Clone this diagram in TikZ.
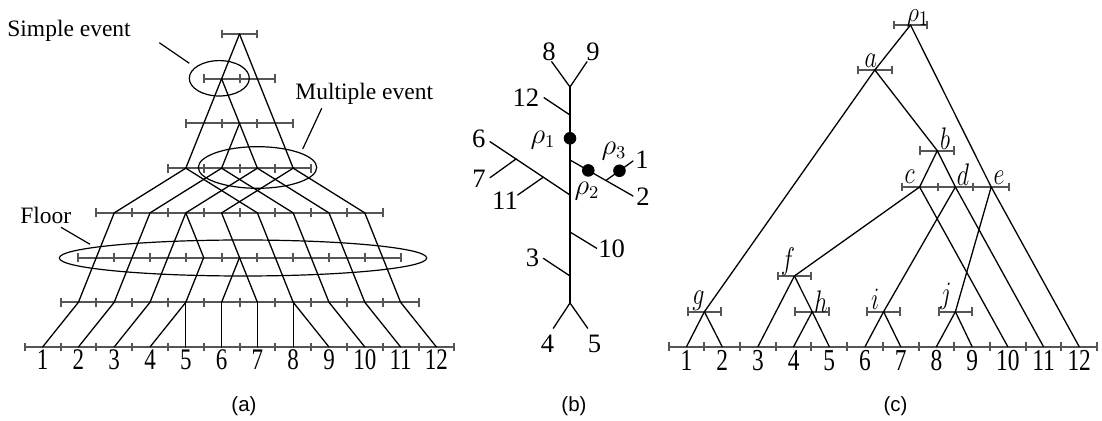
\documentclass[tikz,border=0pt]{standalone}
\usepackage{fontspec}
\setmainfont{Liberation Serif}
\setsansfont{Liberation Sans}
\usepackage{graphicx}
\usetikzlibrary{calc,arrows.meta,positioning,shapes.geometric}
\definecolor{eragray}{RGB}{85,85,85}
\newcommand{\tallnum}[1]{\scalebox{1}[1.3]{#1}}
\newcommand{\tallmath}[1]{\scalebox{1}[1.3]{$#1$}}
\tikzset{
  branch/.style ={line width=0.65pt, black, line cap=round, line join=round},
  era/.style    ={line width=1pt, eragray},
  erabar/.style ={era, {Bar[width=4.4pt]}-{Bar[width=4.4pt]}},
  evring/.style ={ellipse, draw, line width=0.6pt, inner sep=0pt},
  evtext/.style ={font=\fontsize{11.75}{14}\selectfont, inner sep=0pt},
  pointer/.style={line width=0.6pt},
  numA/.style   ={font=\fontsize{11.5}{13}\selectfont, inner sep=0pt},
  numB/.style   ={font=\fontsize{13.3}{15}\selectfont, inner sep=0pt},
  numC/.style   ={font=\fontsize{11.7}{13}\selectfont, inner sep=0pt},
  lblC/.style   ={font=\fontsize{12.5}{14}\selectfont, inner sep=0pt},
  rootdot/.style={circle, fill=black, minimum size=6.3pt, inner sep=0pt},
  caption/.style={font=\sffamily\fontsize{10.25}{12}\selectfont, inner sep=0pt},
}

\begin{document}
\begin{tikzpicture}[x=0.5pt, y=-0.5pt]
  \useasboundingbox[fill=white] (0,0) rectangle (1102,421);

  % --- panel (a): the gene tree on its time grid -------------------------
  \begin{scope}[shift={(239.5,347)}, x=8.95pt, y=22.35pt]
    % time slices with their ticks
    \foreach \k/\lo/\hi in {7/-1/1, 6/-2/2, 5/-3/3, 4/-4/4, 3/-8/8, 2/-9/9, 1/-10/10, 0/-12/12} {
      \draw[era] (\lo,\k) -- (\hi,\k);
      \pgfmathtruncatemacro{\second}{\lo+2}
      \foreach \t in {\lo,\second,...,\hi}
        \draw[era] (\t,\k) ++(0,-2.2pt) -- ++(0,4.4pt);
    }
    % lineages at each slice
    \foreach \k/\ps in {7/{0}, 6/{-1}, 5/{0}, 4/{-3,-1,1,3}, 3/{-7,-5,...,7},
                        2/{-2,0}, 1/{-9,-7,...,9}, 0/{-11,-9,...,11}}
      \foreach \p in \ps
        \coordinate (A\k x\p) at (\p,\k);
    % branches
    \foreach \ka/\pa/\kb/\pb in {7/0/6/-1, 7/0/4/3, 6/-1/4/-3, 6/-1/5/0, 5/0/4/-1, 5/0/4/1,
        4/-3/3/-7, 4/-3/3/1, 4/-1/3/-5, 4/-1/3/3, 4/1/3/-3, 4/1/3/5, 4/3/3/-1, 4/3/3/7,
        3/-7/1/-9, 3/-5/1/-7, 3/-3/1/-5, 3/-3/2/-2, 2/-2/1/-3, 3/-1/2/0, 2/0/1/-1, 2/0/1/1,
        3/1/1/3, 3/3/1/5, 3/5/1/7, 3/7/1/9,
        1/-9/0/-11, 1/-7/0/-9, 1/-5/0/-7, 1/-3/0/-5, 1/-3/0/-3, 1/-1/0/-1, 1/1/0/1,
        1/3/0/3, 1/3/0/5, 1/5/0/7, 1/7/0/9, 1/9/0/11}
      \draw[branch] (A\ka x\pa) -- (A\kb x\pb);
    % leaf numbers
    \foreach \p [count=\n] in {-11,-9,...,11}
      \node[numA, below=1.2pt of A0x\p] (Anum\n) {\tallnum{\n}};
  \end{scope}

  % events
  \node[evring, minimum width=30pt,    minimum height=17.7pt] (simpleev) at (219.3,78.3) {};
  \node[evring, minimum width=59.2pt,  minimum height=20.8pt] (multiev)  at (257.5,167.5) {};
  \node[evring, minimum width=183.7pt, minimum height=18pt]   (floorev)  at (243,258) {};
  \node[evtext, anchor=base west] (simplelbl) at (7,36.7)  {Simple event};
  \node[evtext, anchor=base west] (multilbl)  at (295,100) {Multiple event};
  \node[evtext, anchor=base west] (floorlbl)  at (20,223.3) {Floor};
  \coordinate (simplefoot) at (159.3,42.7);  \coordinate (simpletip) at (189.3,63.3);
  \coordinate (multifoot)  at (321.7,108.3); \coordinate (multitip)  at (302.7,149);
  \coordinate (floorfoot)  at (61,227.3);    \coordinate (floortip)  at (90,244.3);
  \draw[pointer] (simplefoot) -- (simpletip);
  \draw[pointer] (multifoot) -- (multitip);
  \draw[pointer] (floorfoot) -- (floortip);

  % --- panel (b): the unrooted tree --------------------------------------
  \coordinate (Btop) at (570,87);
  \coordinate (Bbot) at (570,303);
  \coordinate (B8) at (551.7,61.7);
  \coordinate (B9) at (587,61.7);
  \coordinate (Bj12) at (570,115);   \coordinate (B12) at (544,97.7);
  \coordinate (Bj2) at (570,160);    \coordinate (B2) at (633,196);
  \coordinate (Bj1) at ($(Bj2)!0.57!(B2)$);  \coordinate (B1) at (633,161);
  \coordinate (Bj6) at (570,195);    \coordinate (B6) at (490,141.7);
  \coordinate (Bj7) at ($(Bj6)!0.675!(B6)$); \coordinate (B7) at (490,177.7);
  \coordinate (Bj11) at ($(Bj6)!0.334!(B6)$); \coordinate (B11) at (517.7,195);
  \coordinate (Bj10) at (570,232);   \coordinate (B10) at (596.7,248.3);
  \coordinate (Bj3) at (570,276);    \coordinate (B3) at (543.3,258.3);
  \coordinate (B4) at (553.3,328.3);
  \coordinate (B5) at (587.7,328.3);
  \draw[branch] (Btop) -- (Bbot);
  \draw[branch] (B8) -- (Btop) -- (B9);
  \draw[branch] (B4) -- (Bbot) -- (B5);
  \foreach \j/\e in {Bj12/B12, Bj2/B2, Bj1/B1, Bj6/B6, Bj7/B7, Bj11/B11, Bj10/B10, Bj3/B3}
    \draw[branch] (\j) -- (\e);
  \node[rootdot] (rhoA) at (570,138.3) {};
  \node[rootdot] (rhoB) at ($(Bj2)!0.29!(B2)$) {};
  \node[rootdot] (rhoC) at ($(Bj1)!0.5!(B1)$) {};
  % leaf and root labels
  \foreach \t/\x/\y in {8/549/51.7, 9/593/51.7, 12/525.8/97.2, 6/478.8/139, 7/479/178.3,
                        11/505/201, 1/642/160, 2/643/196.7, 10/611.7/249, 3/532.5/258.3,
                        4/547.5/344, 5/594.5/344}
    \node[numB] (Blbl\t) at (\x,\y) {\t};
  \node[numB] (rhoAlbl) at (543,140) {$\rho_1$};
  \node[numB] (rhoBlbl) at (587,191) {$\rho_2$};
  \node[numB] (rhoClbl) at (614,151) {$\rho_3$};

  % --- panel (c): the rooted, ranked tree -------------------------------
  \foreach \n in {1,...,12}
    \coordinate (C\n) at ({686.5+35.7*(\n-1)},346.7);
  \coordinate (Crho) at (910.5,25);
  \coordinate (Ca) at (874.8,70);
  \coordinate (Cb) at (937.3,150.7);
  \coordinate (Cc) at (919.6,187);
  \coordinate (Cd) at (955.4,187);
  \coordinate (Ce) at (991.2,187);
  \coordinate (Cf) at (794.4,276);
  \coordinate (Cg) at (704.4,311.7);
  \coordinate (Ch) at (812.2,311.7);
  \coordinate (Ci) at (883.6,311.7);
  \coordinate (Cj) at (955.4,311.7);
  % time bars
  \foreach \nd in {Crho,Ca,Cb,Cf,Cg,Ch,Ci,Cj}
    \draw[erabar] (\nd) ++(-17.85,0) -- ++(35.7,0);
  \draw[era] (901.7,187) -- (1009.3,187);
  \foreach \x in {901.7,937.6,973.4,1009.3}
    \draw[era] (\x,187) ++(0,-4.4) -- ++(0,8.8);
  \draw[era] (668.65,346.7) -- (1097.05,346.7);
  \foreach \n in {0,...,12}
    \draw[era] ({668.65+35.7*\n},346.7) ++(0,-4.4) -- ++(0,8.8);
  % branches
  \foreach \p/\q in {Crho/Ca, Crho/Ce, Ca/Cg, Ca/Cb, Cb/Cc, Cb/Cd, Cc/Cf, Cc/C10,
                     Cd/Ci, Cd/C11, Ce/Cj, Ce/C12, Cf/C3, Cf/Ch, Cg/C1, Cg/C2,
                     Ch/C4, Ch/C5, Ci/C6, Ci/C7, Cj/C8, Cj/C9}
    \draw[branch] (\p) -- (\q);
  % labels
  \foreach \n in {1,...,12}
    \node[numC, below=1.6pt of C\n] (Cnum\n) {\tallnum{\n}};
  \node[lblC] (Crholbl) at (918,18) {\scalebox{1}[1.15]{$\rho_1$}};
  \foreach \t/\x/\y in {a/870.7/61, b/945/138.5, c/909.7/176.7, d/963/174.5,
                        e/999/177.5, f/788/261.5, g/698.3/301, h/821/301.7, i/875/299.7,
                        j/945.8/296.3}
    \node[lblC] (C\t lbl) at (\x,\y) {\tallmath{\t}};

  % --- captions -----------------------------------------------------------
  \node[caption] (capA) at (244,406) {(a)};
  \node[caption] (capB) at (574,406) {(b)};
  \node[caption] (capC) at (895.5,406) {(c)};
\end{tikzpicture}
\end{document}
